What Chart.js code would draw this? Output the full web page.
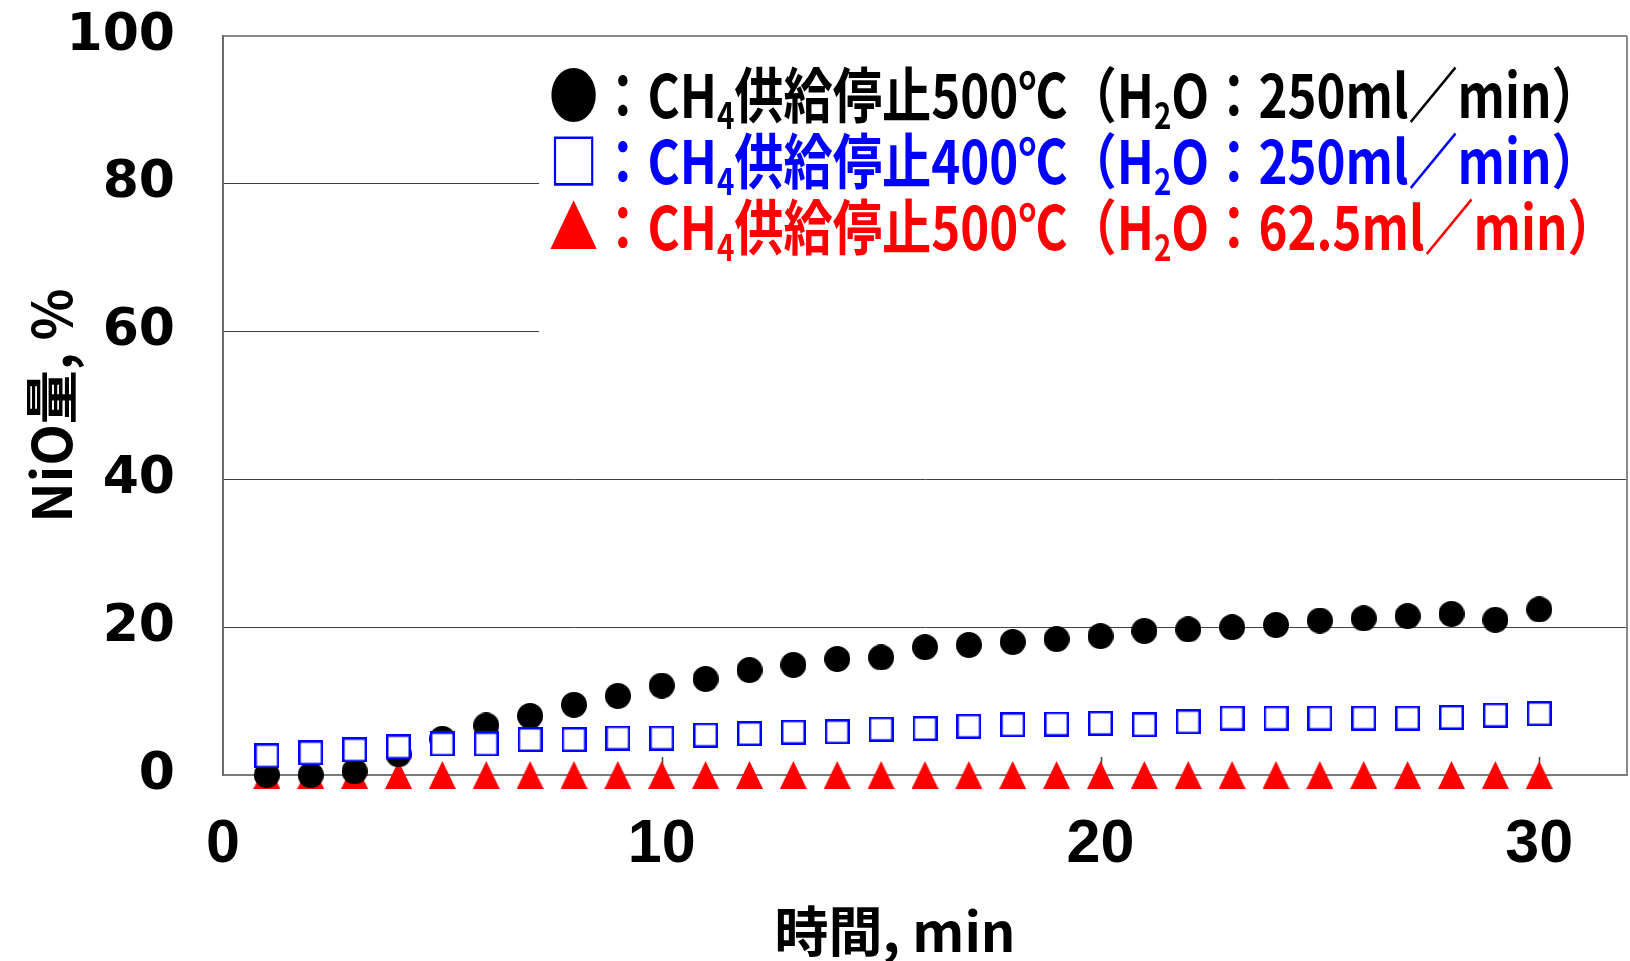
<!DOCTYPE html>
<html lang="ja">
<head>
<meta charset="utf-8">
<title>NiO量の推移</title>
<script src="https://cdn.jsdelivr.net/npm/chart.js@4.4.1/dist/chart.umd.min.js"></script>
<style>
    html, body { margin: 0; padding: 0; background: #fff; }
    #wrap { position: relative; width: 1630px; height: 961px; }
    #chart { position: absolute; left: 0; top: 0; }
    /* legend text; its white box is painted on the canvas under it */
    #key {
        position: absolute; left: 539px; top: 40px; width: 1084px; height: 330px;
        box-sizing: border-box; padding: 19px 0 0 10px;
        font-family: "Noto Sans CJK JP", sans-serif; font-weight: 700; font-size: 60px;
    }
    #key .row { line-height: 66px; white-space: nowrap; transform: scaleX(0.82); transform-origin: left center; }
    #key sub { font-size: 0.6em; vertical-align: -0.3em; line-height: 0; }
    #xtitle {
        position: absolute; left: 695px; width: 400px; top: 898px; text-align: center;
        font-family: "Noto Sans CJK JP", sans-serif; font-weight: 700; font-size: 54px; line-height: 62px;
    }
</style>
</head>
<body>
<div id="wrap">
    <canvas id="chart" width="1630" height="961"></canvas>
    <div id="key">
        <div class="row" style="color:#000000">●：CH<sub>4</sub>供給停止500℃（H<sub>2</sub>O：250ml／min）</div>
        <div class="row" style="color:#0000ff">□：CH<sub>4</sub>供給停止400℃（H<sub>2</sub>O：250ml／min）</div>
        <div class="row" style="color:#ff0000">▲：CH<sub>4</sub>供給停止500℃（H<sub>2</sub>O：62.5ml／min）</div>
    </div>
    <div id="xtitle">時間, min</div>
</div>
<script>
// time after CH4 cut-off, min
const minutes = [1, 2, 3, 4, 5, 6, 7, 8, 9, 10, 11, 12, 13, 14, 15, 16, 17, 18, 19, 20, 21, 22, 23, 24, 25, 26, 27, 28, 29, 30];

// NiO amount, %
const nio500 = [0.0, 0.0, 0.5, 2.8, 4.9, 6.7, 8.0, 9.5, 10.7, 12.1, 13.0, 14.2, 14.9, 15.7, 15.9, 17.3, 17.6, 18.0, 18.4, 18.8, 19.5, 19.7, 20.0, 20.3, 20.9, 21.2, 21.5, 21.8, 21.0, 22.4];
const nio400 = [2.6, 3.0, 3.4, 3.8, 4.2, 4.2, 4.8, 4.8, 5.0, 5.0, 5.4, 5.6, 5.8, 5.85, 6.2, 6.3, 6.6, 6.8, 6.9, 7.0, 6.8, 7.2, 7.7, 7.7, 7.7, 7.7, 7.7, 7.8, 8.1, 8.3];
const nio500Low = [0, 0, 0, 0, 0, 0, 0, 0, 0, 0, 0, 0, 0, 0, 0, 0, 0, 0, 0, 0, 0, 0, 0, 0, 0, 0, 0, 0, 0, 0];

const xTickValues = [0, 10, 20, 30];
const yTickValues = [0, 20, 40, 60, 80, 100];

// marker images
function makeMarker(w, h, paint) {
    const c = document.createElement('canvas');
    c.width = w;
    c.height = h;
    paint(c.getContext('2d'), w, h);
    return c;
}

const dotMarker = makeMarker(26, 26, function (ctx, w, h) {
    ctx.fillStyle = '#000000';
    ctx.beginPath();
    ctx.ellipse(w / 2, h / 2, w / 2, h / 2, 0, 0, Math.PI * 2);
    ctx.fill();
});

const boxMarker = makeMarker(25, 25, function (ctx, w, h) {
    ctx.fillStyle = '#ffffff';
    ctx.fillRect(0, 0, w, h);
    ctx.strokeStyle = '#0000ff';
    ctx.lineWidth = 2.5;
    ctx.strokeRect(1.25, 1.25, w - 2.5, h - 2.5);
});

const triMarker = makeMarker(27, 28, function (ctx, w, h) {
    ctx.fillStyle = '#ff0000';
    ctx.beginPath();
    ctx.moveTo(w / 2, 0);
    ctx.lineTo(w, h);
    ctx.lineTo(0, h);
    ctx.closePath();
    ctx.fill();
});

function toPoints(values) {
    return minutes.map((m, i) => ({ x: m, y: values[i] }));
}

// legend backing box, right edge of the frame, short inner ticks on the time axis
const framePlugin = {
    id: 'frame',
    beforeDatasetsDraw(chart) {
        const { ctx, chartArea } = chart;
        const xs = chart.scales.x;
        ctx.save();
        ctx.fillStyle = '#ffffff';
        ctx.fillRect(539, 40, chartArea.right - 539, 330);

        ctx.strokeStyle = '#8a8a8a';
        ctx.lineWidth = 2;
        ctx.beginPath();
        ctx.moveTo(chartArea.right, chartArea.top);
        ctx.lineTo(chartArea.right, chartArea.bottom);
        ctx.stroke();

        ctx.strokeStyle = '#404040';
        ctx.lineWidth = 1.5;
        xTickValues.slice(1).forEach(v => {
            const px = Math.round(xs.getPixelForValue(v)) + 0.5;
            ctx.beginPath();
            ctx.moveTo(px, chartArea.bottom);
            ctx.lineTo(px, chartArea.bottom - 18);
            ctx.stroke();
        });
        ctx.restore();
    }
};

Chart.defaults.color = '#000000';

const ctx = document.getElementById('chart').getContext('2d');
const nioChart = new Chart(ctx, {
    type: 'scatter',
    data: {
        datasets: [
            {
                label: 'CH4供給停止500℃(H2O:62.5ml/min)',
                data: toPoints(nio500Low),
                pointStyle: triMarker,
                pointRadius: 13,
                clip: false,
                order: 3
            },
            {
                label: 'CH4供給停止500℃(H2O:250ml/min)',
                data: toPoints(nio500),
                pointStyle: dotMarker,
                pointRadius: 13,
                clip: false,
                order: 2
            },
            {
                label: 'CH4供給停止400℃(H2O:250ml/min)',
                data: toPoints(nio400),
                pointStyle: boxMarker,
                pointRadius: 13,
                clip: false,
                order: 1
            }
        ]
    },
    options: {
        responsive: false,
        animation: false,
        events: [],
        layout: { autoPadding: false, padding: { left: 0, right: 3, top: 36, bottom: 0 } },
        plugins: {
            legend: { display: false },
            tooltip: { enabled: false }
        },
        scales: {
            x: {
                type: 'linear',
                min: 0,
                max: 32,
                afterFit: function (scale) {
                    scale.height = 186;
                    scale.paddingLeft = 0;
                    scale.paddingRight = 0;
                },
                afterBuildTicks: function (scale) { scale.ticks = xTickValues.map(v => ({ value: v })); },
                grid: { display: false, drawTicks: true, tickLength: 34 },
                border: { display: true, color: '#7a7a7a', width: 2 },
                ticks: {
                    padding: 0,
                    maxRotation: 0,
                    font: { family: 'Liberation Sans', weight: 'bold', size: 61 }
                },
                title: { display: false }
            },
            y: {
                min: 0,
                max: 100,
                afterFit: function (scale) { scale.width = 223; },
                afterBuildTicks: function (scale) { scale.ticks = yTickValues.map(v => ({ value: v })); },
                grid: {
                    drawTicks: true,
                    tickLength: 48,
                    tickColor: 'rgba(0,0,0,0)',
                    color: c => c.tick && c.tick.value === 100 ? '#8a8a8a' : (c.tick && c.tick.value === 0 ? 'rgba(0,0,0,0)' : '#404040'),
                    lineWidth: c => c.tick && c.tick.value === 100 ? 2 : 1
                },
                border: { display: true, color: '#6a6a6a', width: 2 },
                ticks: {
                    padding: 0,
                    font: { family: 'DejaVu Sans', weight: 'bold', size: 52 }
                },
                title: {
                    display: true,
                    text: 'NiO量, %',
                    padding: { top: 19, bottom: 0 },
                    font: { family: 'Noto Sans CJK JP', weight: 'bold', size: 54 }
                }
            }
        }
    },
    plugins: [framePlugin]
});
</script>
</body>
</html>
